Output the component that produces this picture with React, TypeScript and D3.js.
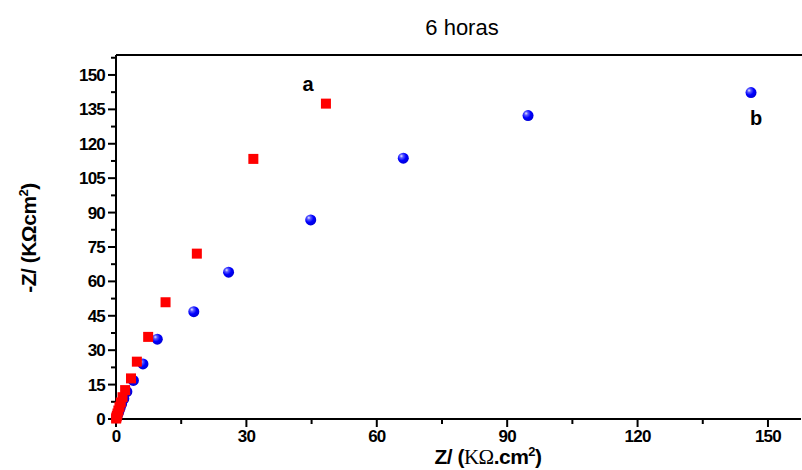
import React from "react";
import * as d3 from "d3";

const redX = [48.3, 31.6, 18.6, 11.4, 7.4, 4.8, 3.45, 2.1, 1.5, 1.1, 0.8, 0.55, 0.35, 0.2, 0.1, 0.03];
const redY = [137.5, 113.4, 72.1, 50.9, 35.8, 25.0, 17.7, 12.6, 9.5, 7.2, 5.3, 3.7, 2.4, 1.4, 0.7, 0.2];
const blueX = [146.1, 94.8, 66.1, 44.8, 25.9, 17.9, 9.5, 6.2, 4.0, 2.5, 1.8, 1.3, 0.95, 0.65, 0.4, 0.22, 0.1];
const blueY = [142.3, 132.3, 113.7, 86.8, 64.0, 46.8, 34.8, 24.0, 16.8, 11.9, 8.8, 6.5, 4.8, 3.3, 2.1, 1.2, 0.5];
const xTicks = [0, 30, 60, 90, 120, 150];
const yTicks = [0, 15, 30, 45, 60, 75, 90, 105, 120, 135, 150];
const title = "6 horas";
const labelA = "a";
const labelB = "b";

export default function App() {
  const W = 802, H = 470;
  const x = d3.scaleLinear().domain([0, 157.6]).range([116, 801]);
  const y = d3.scaleLinear().domain([0, 158.7]).range([419, 55]);
  const xMinor = d3.range(15, 158, 30);
  const yMinor = d3.range(7.5, 158, 15);
  const font = "Liberation Sans, Arial, sans-serif";
  return (
    <svg width={W} height={H} style={{ position: "absolute", left: 0, top: 0, background: "#fff" }}>
      <defs>
        <radialGradient id="ball" cx="0.38" cy="0.35" r="0.65" fx="0.32" fy="0.3">
          <stop offset="0" stopColor="#e8e8ff" />
          <stop offset="0.25" stopColor="#5a5aff" />
          <stop offset="0.6" stopColor="#0000ff" />
          <stop offset="1" stopColor="#0000d8" />
        </radialGradient>
      </defs>
      <text x={462} y={35} textAnchor="middle" fontFamily={font} fontSize={22}>{title}</text>
      {/* axes */}
      <line x1={x(0)} x2={801} y1={y(0)} y2={y(0)} stroke="#000" strokeWidth={2} />
      <line x1={x(0)} x2={x(0)} y1={y(0) + 1} y2={55} stroke="#000" strokeWidth={2} />
      <line x1={x(0)} x2={802} y1={55} y2={55} stroke="#000" strokeWidth={2} />
      {xTicks.map((t) => (
        <g key={"xt" + t}>
          <line x1={x(t)} x2={x(t)} y1={y(0)} y2={y(0) + 8} stroke="#000" strokeWidth={2} />
          <text x={x(t)} y={442} textAnchor="middle" fontFamily={font} fontSize={17} fontWeight="bold" letterSpacing={-0.8}>{t}</text>
        </g>
      ))}
      {xMinor.map((t) => (
        <line key={"xm" + t} x1={x(t)} x2={x(t)} y1={y(0)} y2={y(0) + 5} stroke="#000" strokeWidth={2} />
      ))}
      {yTicks.map((t) => (
        <g key={"yt" + t}>
          <line x1={x(0) - 8} x2={x(0)} y1={y(t)} y2={y(t)} stroke="#000" strokeWidth={2} />
          <text x={105} y={y(t) + 6} textAnchor="end" fontFamily={font} fontSize={17} fontWeight="bold" letterSpacing={-0.8}>{t}</text>
        </g>
      ))}
      {yMinor.map((t) => (
        <line key={"ym" + t} x1={x(0) - 5} x2={x(0)} y1={y(t)} y2={y(t)} stroke="#000" strokeWidth={2} />
      ))}
      {/* axis labels */}
      <text x={488} y={464} textAnchor="middle" fontFamily={font} fontSize={21} fontWeight="bold" letterSpacing={-0.5}>
        Z/ (<tspan fontFamily="Liberation Serif, serif" fontWeight="normal">KΩ</tspan>.cm<tspan fontSize={13} dy={-8}>2</tspan><tspan dy={8}>)</tspan>
      </text>
      <text transform="translate(36,238) rotate(-90)" textAnchor="middle" fontFamily={font} fontSize={21} fontWeight="bold" letterSpacing={-0.5}>
        -Z/ (KΩcm<tspan fontSize={13} dy={-8}>2</tspan><tspan dy={8}>)</tspan>
      </text>
      {/* data */}
      {blueX.map((v, i) => (
        <circle key={"b" + i} cx={x(v)} cy={y(blueY[i])} r={5.5} fill="url(#ball)" />
      ))}
      {redX.map((v, i) => (
        <rect key={"r" + i} x={x(v) - 5} y={y(redY[i]) - 5} width={10} height={10} fill="#ff0000" />
      ))}
      <text x={308} y={91} textAnchor="middle" fontFamily={font} fontSize={20} fontWeight="bold">{labelA}</text>
      <text x={756} y={125} textAnchor="middle" fontFamily={font} fontSize={20} fontWeight="bold">{labelB}</text>
    </svg>
  );
}
